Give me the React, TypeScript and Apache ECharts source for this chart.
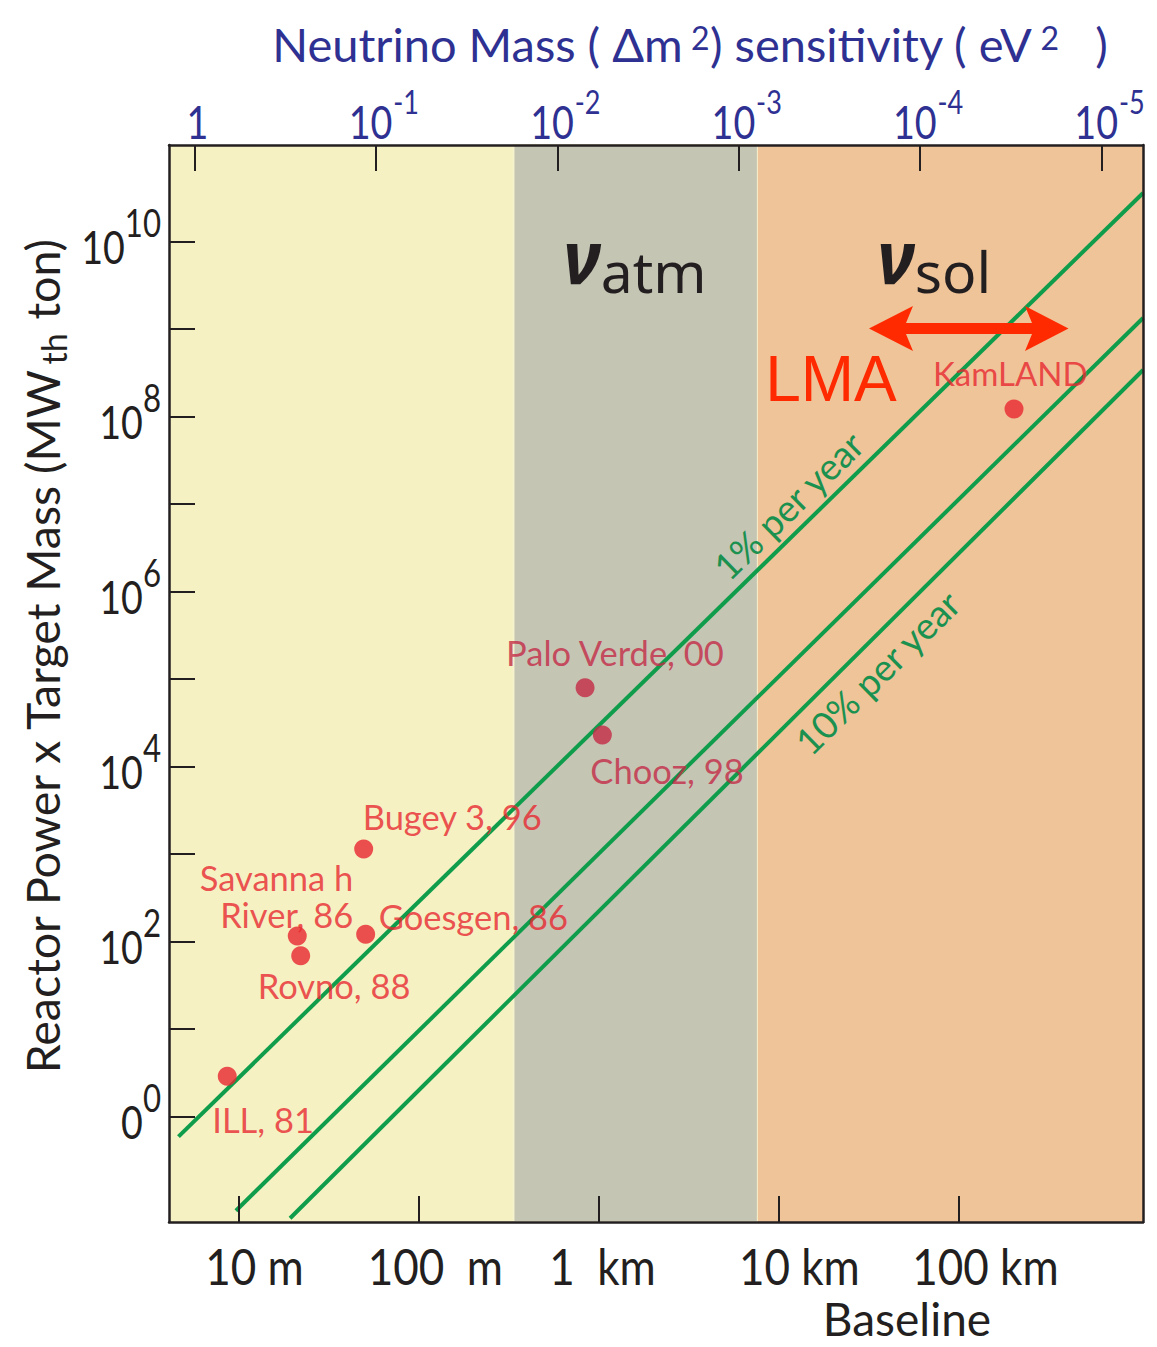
import React, { useEffect, useRef } from "react";
import * as echarts from "echarts";

// ---------------- data (log10 exponents) ----------------
// x: log10(baseline / m)   y: log10(reactor power x target mass / MW_th·ton)
const experimentNames = [
  "ILL, 81",
  "Savanna h\nRiver, 86",
  "Rovno, 88",
  "Bugey 3, 96",
  "Goesgen, 86",
  "Palo Verde, 00",
  "Chooz, 98",
  "KamLAND",
];
const experimentLogBaseline = [0.938, 1.327, 1.346, 1.696, 1.707, 2.926, 3.022, 5.309];
const experimentLogPowerMass = [0.459, 2.063, 1.838, 3.057, 2.082, 4.901, 4.36, 8.086];

// sensitivity lines: [start, end] as [log10 baseline, log10 power x mass]
const line1Pct = [
  [0.667, -0.231],
  [6.026, 10.554],
];
const lineMid = [
  [0.986, -1.077],
  [6.026, 9.126],
];
const line10Pct = [
  [1.287, -1.163],
  [6.026, 8.531],
];

// Δm² regions along the baseline axis (log10 m): atmospheric band edges
const regionEdges = [2.528, 3.886];

// axes
const X_MIN = 0.6144;
const X_MAX = 6.0256;
const Y_MIN = -1.206;
const Y_MAX = 11.103;
const DM_MIN = -5.229;
const DM_MAX = 0.1406;
const baselineTicks = [1, 2, 3, 4, 5];
const baselineTickLabels = ["10 m", "100  m", "1  km", "10 km", "100 km"];
const dm2Ticks = [0, -1, -2, -3, -4, -5];
const powerTicks = [0, 1, 2, 3, 4, 5, 6, 7, 8, 9, 10];
const powerLabelTicks = [0, 2, 4, 6, 8, 10];

// ---------------- styles ----------------
const FONT = 'Lato, "Noto Sans", sans-serif';
const INK = "#231f20";
const BLUE = "#2e3192";
const RED = "#e8272f";
const RED_DARK = "#c32a45";
const LMA_RED = "#ff2a00";
const GREEN = "#0f9d4c";
const GREEN_TEXT = "#1b9150";
const bandColors = ["#f5f1c2", "#c5c5b4", "#f0c499"];
const bottomLabelShift = [16, 17, 4, 21, 27];

// label placement per experiment: [dx, dy, align]
const labelPlacement: [number, number, string][] = [
  [-15, 43, "left"],
  [56, -40, "right"],
  [-43, 30, "left"],
  [-1, -33, "left"],
  [13, -18, "left"],
  [-79, -35, "left"],
  [-12, 36, "left"],
  [-81, -36, "left"],
];

function buildOption() {
  const inGrey = (x: number) => x >= regionEdges[0] && x <= regionEdges[1];
  const bands = [
    [X_MIN, regionEdges[0]],
    [regionEdges[0], regionEdges[1]],
    [regionEdges[1], X_MAX],
  ];

  const scatterData = experimentNames.map((name, i) => {
    const x = experimentLogBaseline[i];
    const c = inGrey(x) ? RED_DARK : RED;
    const [dx, dy, align] = labelPlacement[i];
    return {
      name,
      value: [x, experimentLogPowerMass[i]],
      itemStyle: { color: c },
      label: {
        show: true,
        formatter: name,
        position: "inside",
        align,
        verticalAlign: "middle",
        offset: [dx, dy],
        color: c,
        fontSize: i === 7 ? 33 : 34.5,
        lineHeight: 37,
        fontFamily: FONT,
      },
    };
  });

  const axisLine = { show: true, onZero: false, lineStyle: { color: INK, width: 2.5 } };
  const tickStyle = { color: INK, width: 2 };

  const greenLine = (data: number[][]) => ({
    type: "line",
    data,
    symbol: "none",
    z: 3,
    silent: true,
    lineStyle: { color: GREEN, width: 4 },
  });

  return {
    animation: false,
    backgroundColor: "#ffffff",
    grid: { left: 169, top: 145, width: 974, height: 1077, show: false },
    xAxis: [
      {
        type: "value",
        min: X_MIN,
        max: X_MAX,
        position: "bottom",
        z: 10,
        axisLine,
        splitLine: { show: false },
        axisTick: { show: true, inside: true, length: 26, customValues: baselineTicks, lineStyle: tickStyle },
        axisLabel: { show: false },
      },
      {
        type: "value",
        min: DM_MIN,
        max: DM_MAX,
        inverse: true,
        position: "top",
        z: 10,
        axisLine,
        splitLine: { show: false },
        axisTick: { show: true, inside: true, length: 26, customValues: dm2Ticks, lineStyle: tickStyle },
        axisLabel: { show: false },
      },
    ],
    yAxis: [
      {
        type: "value",
        min: Y_MIN,
        max: Y_MAX,
        position: "left",
        z: 10,
        axisLine,
        splitLine: { show: false },
        axisTick: { show: true, inside: true, length: 26, customValues: powerTicks, lineStyle: tickStyle },
        axisLabel: { show: false },
      },
      {
        type: "value",
        min: Y_MIN,
        max: Y_MAX,
        position: "right",
        z: 10,
        axisLine,
        splitLine: { show: false },
        axisTick: { show: false },
        axisLabel: { show: false },
      },
    ],
    series: [
      {
        type: "custom",
        z: 1,
        silent: true,
        data: bands,
        encode: { x: [0, 1] },
        renderItem: (params: any, api: any) => {
          const p0 = api.coord([api.value(0), Y_MAX]);
          const p1 = api.coord([api.value(1), Y_MIN]);
          const grey = params.dataIndex === 1;
          return {
            type: "rect",
            shape: { x: p0[0], y: p0[1], width: p1[0] - p0[0], height: p1[1] - p0[1] },
            style: {
              fill: bandColors[params.dataIndex],
              stroke: grey ? "#f6f2cc" : null,
              lineWidth: grey ? 2 : 0,
            },
          };
        },
      },
      greenLine(line1Pct),
      greenLine(lineMid),
      greenLine(line10Pct),
      {
        type: "scatter",
        z: 5,
        symbol: "circle",
        symbolSize: 19,
        data: scatterData,
      },
    ],
  };
}

// tick labels (condensed via scaleX) placed through the axes' own scales, plus annotations
function buildGraphics(chart: any) {
  const g: any[] = [];

  // bottom axis tick labels
  baselineTicks.forEach((t, i) => {
    const px = chart.convertToPixel({ xAxisIndex: 0 }, t);
    g.push({
      type: "text",
      x: px + bottomLabelShift[i],
      y: 1266,
      scaleX: 0.88,
      z: 100,
      style: {
        text: baselineTickLabels[i],
        fontSize: 50,
        fontFamily: FONT,
        fill: INK,
        align: "center",
        verticalAlign: "middle",
        whiteSpace: "pre",
      },
    });
  });

  // top axis tick labels (Δm²)
  dm2Ticks.forEach((t) => {
    const px = chart.convertToPixel({ xAxisIndex: 1 }, t);
    g.push({
      type: "text",
      x: px + (t === 0 ? 3 : 8),
      y: 121,
      scaleX: 0.82,
      z: 100,
      style: {
        text: t === 0 ? "{b|1}" : `{b|10}{s|${t}}`,
        align: "center",
        verticalAlign: "middle",
        rich: {
          b: { fontSize: 46, fontFamily: FONT, fill: BLUE, color: BLUE },
          s: { fontSize: 33, fontFamily: FONT, fill: BLUE, color: BLUE, padding: [0, 0, 40, 1] },
        },
      },
    });
  });

  // left axis tick labels
  powerLabelTicks.forEach((t) => {
    const py = chart.convertToPixel({ yAxisIndex: 0 }, t);
    g.push({
      type: "text",
      x: 161,
      y: py + 4,
      scaleX: 0.8,
      z: 100,
      style: {
        text: t === 0 ? "{b|0}{s|0}" : `{b|10}{s|${t}}`,
        align: "right",
        verticalAlign: "middle",
        rich: {
          b: { fontSize: 47, fontFamily: FONT, fill: INK, color: INK },
          s: { fontSize: 39, fontFamily: FONT, fill: INK, color: INK, padding: [0, 0, 46, 0] },
        },
      },
    });
  });

  g.push(
    // top axis title
    {
      type: "text",
      x: 690,
      y: 44,
      z: 100,
      style: {
        text: "{a|Neutrino Mass ( Δm}{s| 2}{a|) sensitivity ( eV}{s| 2}{a|   )}",
        align: "center",
        verticalAlign: "middle",
        rich: {
          a: { fontSize: 47, fontFamily: FONT, fill: BLUE, color: BLUE },
          s: { fontSize: 32, fontFamily: FONT, fill: BLUE, color: BLUE, padding: [0, 0, 14, 0] },
        },
      },
    },
    // y axis title
    {
      type: "text",
      x: 42,
      y: 657,
      rotation: Math.PI / 2,
      z: 100,
      style: {
        text: "{a|Reactor Power x Target Mass (MW}{s|th}{a| ton)}",
        align: "center",
        verticalAlign: "middle",
        rich: {
          a: { fontSize: 46.5, fontFamily: FONT, fill: INK, color: INK },
          s: { fontSize: 34, fontFamily: FONT, fill: INK, color: INK, padding: [23, 2, 0, 4] },
        },
      },
    },
    // bottom axis name
    {
      type: "text",
      x: 907,
      y: 1318,
      z: 100,
      style: {
        text: "Baseline",
        fontSize: 46,
        fontFamily: FONT,
        fill: INK,
        align: "center",
        verticalAlign: "middle",
      },
    },
    // nu atm / nu sol
    {
      type: "text",
      x: 563,
      y: 266,
      z: 100,
      style: {
        text: "{n|ν}{s|atm}",
        align: "left",
        verticalAlign: "middle",
        rich: {
          n: {
            fontSize: 74,
            fontStyle: "italic",
            fontWeight: "bold",
            fontFamily: '"Noto Sans"',
            fill: INK,
            color: INK,
            padding: [0, 0, 22, 0],
          },
          s: { fontSize: 57, fontFamily: '"Noto Sans"', fill: INK, color: INK, padding: [10, 0, 0, 0] },
        },
      },
    },
    {
      type: "text",
      x: 877,
      y: 266,
      z: 100,
      style: {
        text: "{n|ν}{s|sol}",
        align: "left",
        verticalAlign: "middle",
        rich: {
          n: {
            fontSize: 74,
            fontStyle: "italic",
            fontWeight: "bold",
            fontFamily: '"Noto Sans"',
            fill: INK,
            color: INK,
            padding: [0, 0, 22, 0],
          },
          s: { fontSize: 57, fontFamily: '"Noto Sans"', fill: INK, color: INK, padding: [10, 0, 0, 0] },
        },
      },
    },
    // LMA + arrow
    {
      type: "text",
      x: 831,
      y: 379,
      z: 100,
      style: {
        text: "LMA",
        fontSize: 64,
        fontFamily: '"Liberation Sans", Arial, sans-serif',
        fill: LMA_RED,
        align: "center",
        verticalAlign: "middle",
      },
    },
    {
      type: "polygon",
      z: 100,
      shape: {
        points: [
          [869, 328.5],
          [913, 306],
          [906, 323],
          [1032, 323],
          [1025, 306],
          [1068.5, 328.5],
          [1025, 351],
          [1032, 334],
          [906, 334],
          [913, 351],
        ],
      },
      style: { fill: LMA_RED },
    },
    // line labels
    {
      type: "text",
      x: 788,
      y: 505,
      rotation: Math.atan(0.98),
      z: 100,
      style: { text: "1% per year", fontSize: 37, fontFamily: FONT, fill: GREEN_TEXT, align: "center", verticalAlign: "middle" },
    },
    {
      type: "text",
      x: 877,
      y: 672,
      rotation: Math.atan(0.99),
      z: 100,
      style: { text: "10% per year", fontSize: 37, fontFamily: FONT, fill: GREEN_TEXT, align: "center", verticalAlign: "middle" },
    }
  );
  return g;
}

export default function App() {
  const ref = useRef<HTMLDivElement>(null);
  useEffect(() => {
    if (!ref.current) return;
    const chart = echarts.init(ref.current, null, { renderer: "svg" });
    chart.setOption(buildOption() as any);
    chart.setOption({ graphic: buildGraphics(chart) } as any);
    return () => chart.dispose();
  }, []);
  return (
    <div
      ref={ref}
      style={{ position: "absolute", left: 0, top: 0, width: 1157, height: 1347, background: "#ffffff" }}
    />
  );
}
